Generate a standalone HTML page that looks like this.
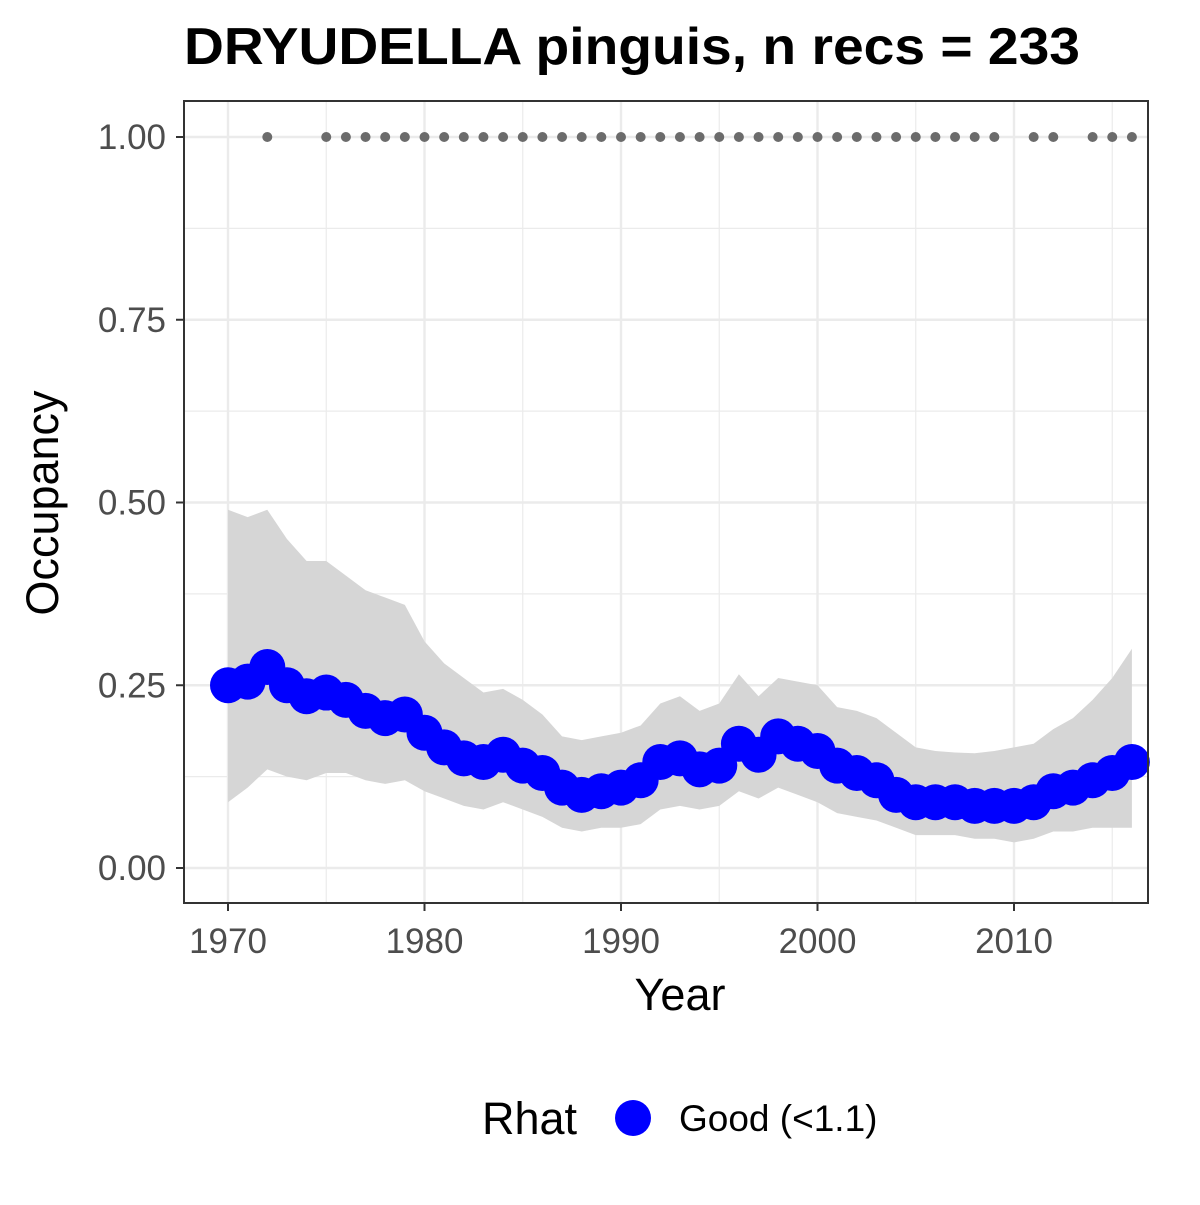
<!DOCTYPE html>
<html><head><meta charset="utf-8"><style>
body{margin:0;background:#fff}
svg text{font-family:"Liberation Sans",Arial,sans-serif}
</style></head><body>
<svg id="chart" width="1200" height="1200" viewBox="0 0 1200 1200">
<text x="632" y="64" font-size="52" font-weight="bold" text-anchor="middle" textLength="896" lengthAdjust="spacingAndGlyphs">DRYUDELLA pinguis, n recs = 233</text>
<g id="grid"></g>
<g id="band"></g>
<g id="recs"></g>
<g id="pts"></g>
<rect x="184" y="101" width="964" height="802" fill="none" stroke="#333" stroke-width="2"/>
<g id="axes"></g>
<text x="680" y="1010" font-size="45" text-anchor="middle">Year</text>
<text transform="translate(58,503) rotate(-90)" font-size="45" text-anchor="middle">Occupancy</text>
<g>
<text x="482" y="1134" font-size="45">Rhat</text>
<circle cx="633" cy="1118" r="18" fill="#0000ff"/>
<text x="679" y="1131" font-size="37">Good (&lt;1.1)</text>
</g>
</svg>
<script>
const years=[1970,1971,1972,1973,1974,1975,1976,1977,1978,1979,1980,1981,1982,1983,1984,1985,1986,1987,1988,1989,1990,1991,1992,1993,1994,1995,1996,1997,1998,1999,2000,2001,2002,2003,2004,2005,2006,2007,2008,2009,2010,2011,2012,2013,2014,2015,2016];
const occupancy=[0.25,0.255,0.275,0.25,0.235,0.24,0.23,0.215,0.205,0.21,0.185,0.165,0.15,0.145,0.155,0.14,0.13,0.11,0.10,0.105,0.11,0.12,0.145,0.15,0.135,0.14,0.17,0.155,0.18,0.17,0.16,0.14,0.13,0.12,0.10,0.09,0.09,0.09,0.085,0.085,0.085,0.09,0.105,0.11,0.12,0.13,0.145];
const upper=[0.49,0.48,0.49,0.45,0.42,0.42,0.40,0.38,0.37,0.36,0.31,0.28,0.26,0.24,0.245,0.23,0.21,0.18,0.175,0.18,0.185,0.195,0.225,0.235,0.215,0.225,0.265,0.235,0.26,0.255,0.25,0.22,0.215,0.205,0.185,0.165,0.16,0.158,0.157,0.16,0.165,0.17,0.19,0.205,0.23,0.26,0.30];
const lower=[0.09,0.11,0.135,0.125,0.12,0.13,0.13,0.12,0.115,0.12,0.105,0.095,0.085,0.08,0.09,0.08,0.07,0.055,0.05,0.055,0.055,0.06,0.08,0.085,0.08,0.085,0.105,0.095,0.11,0.10,0.09,0.075,0.07,0.065,0.055,0.045,0.045,0.045,0.04,0.04,0.035,0.04,0.05,0.05,0.055,0.055,0.055];
const recordYears=[1972,1975,1976,1977,1978,1979,1980,1981,1982,1983,1984,1985,1986,1987,1988,1989,1990,1991,1992,1993,1994,1995,1996,1997,1998,1999,2000,2001,2002,2003,2004,2005,2006,2007,2008,2009,2011,2012,2014,2015,2016];
const xTicks=[1970,1980,1990,2000,2010];
const yTicks=[0,0.25,0.5,0.75,1.0];
const yTickLabels=["0.00","0.25","0.50","0.75","1.00"];

const X=y=>228+(y-1970)*19.65;
const Y=v=>868-v*731;
const NS="http://www.w3.org/2000/svg";
function mk(parent,tag,attrs){const e=document.createElementNS(NS,tag);for(const k in attrs)e.setAttribute(k,attrs[k]);document.getElementById(parent).appendChild(e);return e;}

for(let i=0;i<yTicks.length;i++){
  let l=mk('grid','line',{x1:184,x2:1148,y1:Y(yTicks[i]),y2:Y(yTicks[i]),stroke:'#ebebeb','stroke-width':2.4});
  
  
  if(i<yTicks.length-1){
    let m=mk('grid','line',{x1:184,x2:1148,y1:Y(yTicks[i]+0.125),y2:Y(yTicks[i]+0.125),stroke:'#ebebeb','stroke-width':1.2});
    
    
  }
}
for(const t of xTicks){
  let l=mk('grid','line',{x1:X(t),x2:X(t),y1:101,y2:903,stroke:'#ebebeb','stroke-width':2.4});
  
  
  let m=mk('grid','line',{x1:X(t+5),x2:X(t+5),y1:101,y2:903,stroke:'#ebebeb','stroke-width':1.2});
  
  
}
let d='';
years.forEach((y,i)=>{d+=(i?'L':'M')+X(y)+','+Y(upper[i]);});
for(let i=years.length-1;i>=0;i--)d+='L'+X(years[i])+','+Y(lower[i]);
let band=mk('band','path',{d:d+'Z',fill:'#d6d6d6'});


for(const r of recordYears){
  let c=mk('recs','circle',{cx:X(r),cy:Y(1),r:5,fill:'#6b6b6b'});
  
  
}
years.forEach((y,i)=>{
  let c=mk('pts','circle',{cx:X(y),cy:Y(occupancy[i]),r:18,fill:'#0000ff'});
  
  
});
yTicks.forEach((v,i)=>{
  let t=mk('axes','line',{x1:176,x2:184,y1:Y(v),y2:Y(v),stroke:'#333','stroke-width':2});
  
  
  let tx=mk('axes','text',{x:166,y:Y(v)+12,'font-size':35,fill:'#4d4d4d','text-anchor':'end'});
  tx.textContent=yTickLabels[i];
  
  
});
xTicks.forEach(v=>{
  let t=mk('axes','line',{x1:X(v),x2:X(v),y1:903,y2:911,stroke:'#333','stroke-width':2});
  
  
  let tx=mk('axes','text',{x:X(v),y:953,'font-size':35,fill:'#4d4d4d','text-anchor':'middle'});
  tx.textContent=v;
  
  
});
</script>
</body></html>
